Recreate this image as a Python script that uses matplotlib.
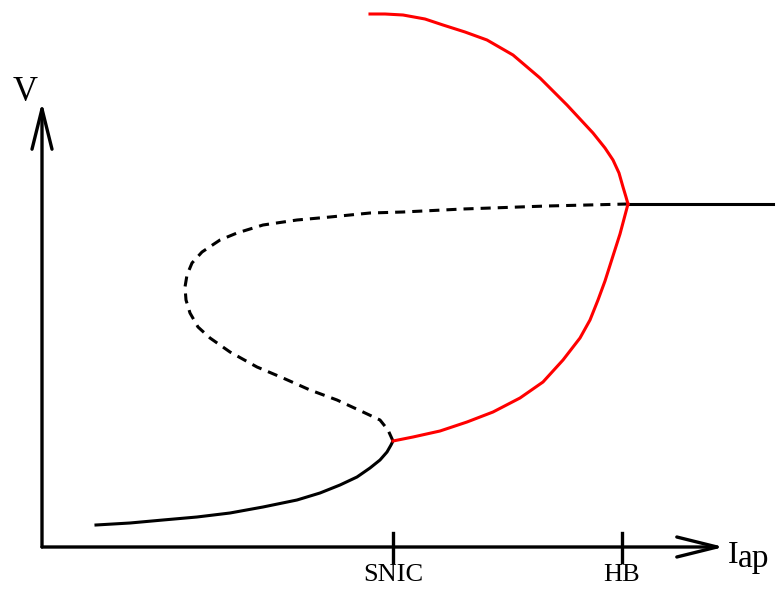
import numpy as np
import matplotlib.pyplot as plt

plt.rcParams['font.family'] = ['Liberation Serif', 'DejaVu Serif']

# equilibrium branches (I_ap, V), schematic units
low_I = [0.54, 0.88, 1.21, 1.55, 1.88, 2.21, 2.55, 2.78, 2.98, 3.15, 3.28, 3.38,
         3.45, 3.49, 3.51]
low_V = [0.22, 0.24, 0.27, 0.30, 0.34, 0.40, 0.47, 0.54, 0.62, 0.70, 0.79, 0.87,
         0.95, 1.02, 1.06]

mid_I = [3.51, 3.46, 3.38, 3.21, 2.95, 2.68, 2.41, 2.15, 1.88, 1.68, 1.56, 1.48,
         1.44, 1.43, 1.45, 1.50, 1.60, 1.78, 1.95, 2.21, 2.55, 2.88, 3.28, 3.61,
         4.21, 5.05, 5.86]
mid_V = [1.06, 1.17, 1.27, 1.35, 1.47, 1.57, 1.69, 1.80, 1.95, 2.09, 2.20, 2.34,
         2.47, 2.60, 2.72, 2.84, 2.95, 3.07, 3.14, 3.22, 3.27, 3.30, 3.34, 3.35,
         3.38, 3.41, 3.43]

up_I = [5.86, 7.31]
up_V = [3.43, 3.43]

# periodic orbit (max / min of V)
cyc_max_I = [3.28, 3.43, 3.61, 3.83, 4.01, 4.23, 4.45, 4.71, 4.98, 5.25, 5.51,
             5.63, 5.71, 5.77, 5.81, 5.84, 5.86]
cyc_max_V = [5.33, 5.33, 5.32, 5.28, 5.22, 5.15, 5.07, 4.92, 4.69, 4.42, 4.14,
             3.99, 3.87, 3.74, 3.60, 3.50, 3.43]
cyc_min_I = [3.51, 3.71, 3.98, 4.25, 4.51, 4.78, 5.01, 5.21, 5.38, 5.48, 5.56,
             5.63, 5.70, 5.78, 5.86]
cyc_min_V = [1.06, 1.10, 1.16, 1.25, 1.35, 1.49, 1.65, 1.87, 2.09, 2.27, 2.47,
             2.66, 2.88, 3.13, 3.43]

tick_pos = [3.51, 5.80]
tick_labels = ['SNIC', 'HB']

fig = plt.figure(figsize=(7.78, 5.89), dpi=100)
ax = fig.add_axes([0, 0, 1, 1])
ax.set_xlim(-0.42, 7.36)
ax.set_ylim(-0.42, 5.47)
ax.axis('off')

lw = 2.2
ax.plot(low_I, low_V, color='black', lw=lw, solid_joinstyle='round')
ax.plot(mid_I, mid_V, color='black', lw=lw, dashes=(3.3, 2.3))
ax.plot(up_I, up_V, color='black', lw=lw)
ax.plot(cyc_max_I, cyc_max_V, color='red', lw=lw, solid_joinstyle='round')
ax.plot(cyc_min_I, cyc_min_V, color='red', lw=lw, solid_joinstyle='round')

# axes drawn as open arrows
arrow = dict(arrowstyle='->,head_length=1.45,head_width=0.36', mutation_scale=20,
             lw=2.4, color='black', shrinkA=0, shrinkB=0)
ax.annotate('', xy=(0, 4.45), xytext=(0, 0), arrowprops=arrow)
ax.annotate('', xy=(6.82, 0), xytext=(0, 0), arrowprops=arrow)

for x, lab in zip(tick_pos, tick_labels):
    ax.plot([x, x], [-0.15, 0.14], color='black', lw=2.4)
    ax.text(x, -0.34, lab, ha='center', va='baseline', fontsize=19)

ax.text(-0.17, 4.54, 'V', ha='center', va='center', fontsize=25)
ax.text(6.86, -0.16, 'I', ha='left', va='baseline', fontsize=23)
ax.text(6.96, -0.20, 'ap', ha='left', va='baseline', fontsize=24)

fig.savefig('out.png', dpi=100)
